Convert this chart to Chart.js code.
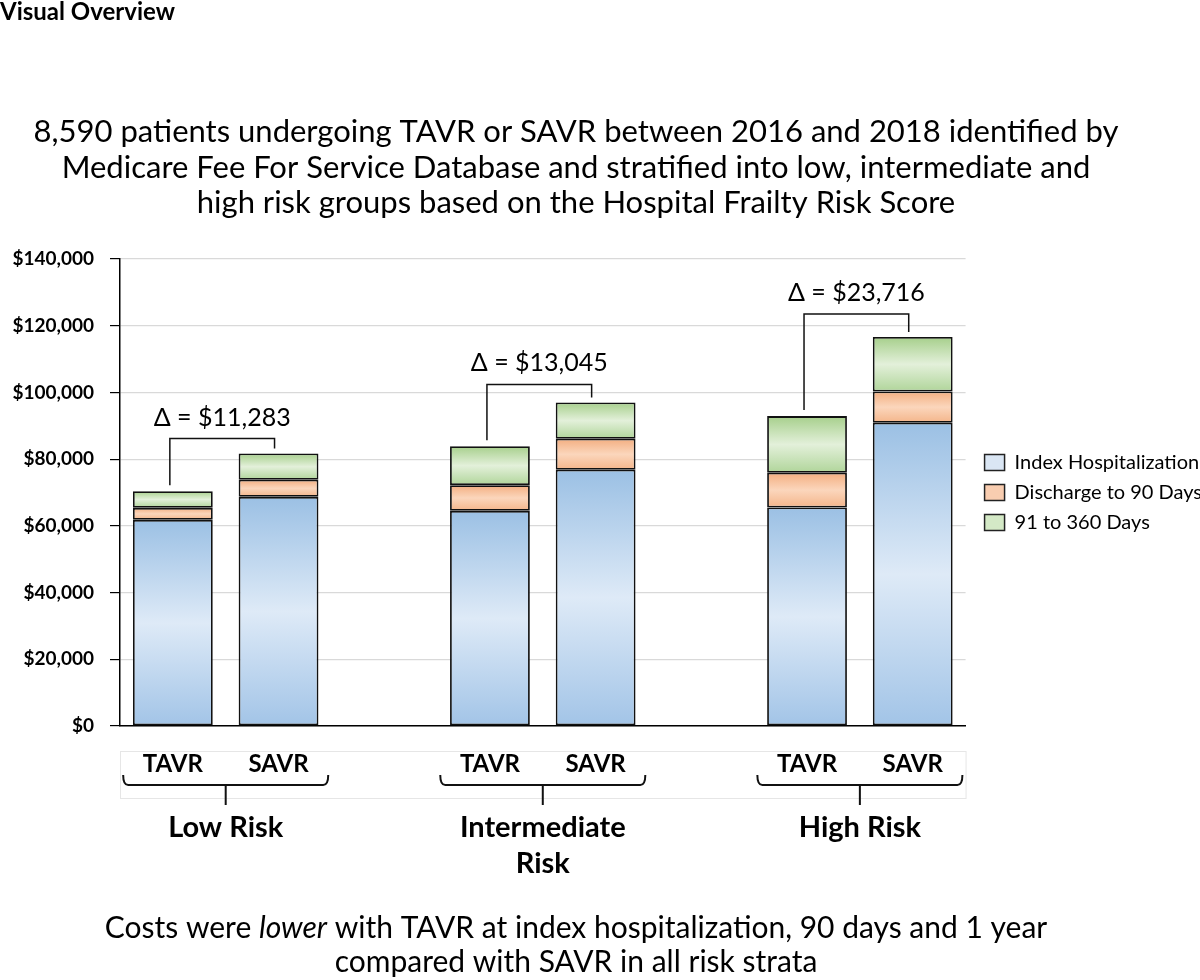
<!DOCTYPE html>
<html>
<head>
<meta charset="utf-8">
<title>TAVR vs SAVR costs by frailty risk</title>
<script src="https://cdn.jsdelivr.net/npm/chart.js@4.4.1/dist/chart.umd.min.js"></script>
<style>
  body { margin: 0; background: #fff; }
  #wrap { width: 1200px; height: 980px; }
</style>
</head>
<body>
<div id="wrap"><canvas id="costChart" width="1200" height="980"></canvas></div>
<script>
// bars: TAVR / SAVR per risk group, empty slots are the gaps between groups
const categories = ["TAVR", "SAVR", "", "TAVR", "SAVR", "", "TAVR", "SAVR"];
const indexHospitalization = [61800, 68700, null, 64500, 76800, null, 65500, 90900];
const dischargeTo90 = [3600, 5100, null, 7700, 9300, null, 10400, 9400];
const days91to360 = [5000, 7900, null, 11700, 10900, null, 17000, 16300];
const seriesNames = ["Index Hospitalization", "Discharge to 90 Days", "91 to 360 Days"];
const yTicks = [0, 20000, 40000, 60000, 80000, 100000, 120000, 140000];

const riskGroups = [["Low Risk"], ["Intermediate", "Risk"], ["High Risk"]];
const groupBars = [[0, 1], [3, 4], [6, 7]];
const deltaLabels = ["\u0394 = $11,283", "\u0394 = $13,045", "\u0394 = $23,716"];

const titleLines = [
  "8,590 patients undergoing TAVR or SAVR between 2016 and 2018 identified by",
  "Medicare Fee For Service Database and stratified into low, intermediate and",
  "high risk groups based on the Hospital Frailty Risk Score"
];

const FONT = "Lato, 'Open Sans', sans-serif";

// top / middle / bottom colours of each segment
const blueStops = ["#9bc0e4", "#deeaf7", "#a2c4e7"];
const orangeStops = ["#f3ae80", "#fbd6bc", "#f4b58a"];
const greenStops = ["#a6cf8b", "#e3f0da", "#b0d59a"];

function stackGradient(datasetIndex, stops) {
  return function (context) {
    const chart = context.chart;
    const y = chart.scales.y;
    const raw = context.raw;
    if (context.type !== "data" || !y || raw == null || !chart.chartArea) return stops[1];
    let start = 0;
    for (let d = 0; d < datasetIndex; d++) {
      start += chart.data.datasets[d].data[context.dataIndex] || 0;
    }
    const top = y.getPixelForValue(start + raw);
    const bottom = y.getPixelForValue(start);
    if (!isFinite(top) || !isFinite(bottom) || top === bottom) return stops[1];
    const g = chart.ctx.createLinearGradient(0, top, 0, bottom);
    g.addColorStop(0, stops[0]);
    g.addColorStop(0.5, stops[1]);
    g.addColorStop(1, stops[2]);
    return g;
  };
}

function totalAt(i) {
  return (indexHospitalization[i] || 0) + (dischargeTo90[i] || 0) + (days91to360[i] || 0);
}

// brackets, braces and all the free text
const annotations = {
  id: "annotations",
  afterLayout(chart) {
    // leave a small gap between plot and legend
    chart.legend.left += 9;
    chart.legend.right += 9;
  },
  afterDatasetsDraw(chart) {
    const ctx = chart.ctx;
    const x = chart.scales.x;
    const y = chart.scales.y;
    const rise = [10, 13, 18];

    ctx.save();
    ctx.strokeStyle = "#111";
    ctx.lineWidth = 1.5;
    ctx.fillStyle = "#000";
    ctx.font = "25px " + FONT;
    ctx.textAlign = "center";
    ctx.textBaseline = "middle";
    groupBars.forEach((pair, g) => {
      const xl = x.getPixelForValue(pair[0]) - 3;
      const xr = x.getPixelForValue(pair[1]) - 4;
      const yl = y.getPixelForValue(totalAt(pair[0])) - 6;
      const yr = y.getPixelForValue(totalAt(pair[1])) - 5;
      const yh = yr - rise[g];
      ctx.beginPath();
      ctx.moveTo(xl, yl);
      ctx.lineTo(xl, yh);
      ctx.lineTo(xr, yh);
      ctx.lineTo(xr, yr);
      ctx.stroke();
      ctx.fillText(deltaLabels[g], (xl + xr) / 2, yh - 21);
    });
    ctx.restore();
  },
  afterDraw(chart) {
    const ctx = chart.ctx;
    const x = chart.scales.x;
    const area = chart.chartArea;
    const cx = 576;

    ctx.save();
    ctx.fillStyle = "#000";

    ctx.font = "bold 24px " + FONT;
    ctx.textAlign = "left";
    ctx.textBaseline = "middle";
    ctx.fillText("Visual Overview", 0, 12);

    ctx.font = "31px " + FONT;
    ctx.textAlign = "center";
    titleLines.forEach((t, i) => ctx.fillText(t, cx, 132 + i * 35.5));

    // footer, first line has an italic word
    const pieces = [
      ["Costs were ", "30px " + FONT],
      ["lower", "italic 30px " + FONT],
      [" with TAVR at index hospitalization, 90 days and 1 year", "30px " + FONT]
    ];
    let w = 0;
    pieces.forEach(p => { ctx.font = p[1]; w += ctx.measureText(p[0]).width; });
    let px = cx - w / 2;
    ctx.textAlign = "left";
    pieces.forEach(p => {
      ctx.font = p[1];
      ctx.fillText(p[0], px, 928);
      px += ctx.measureText(p[0]).width;
    });
    ctx.font = "30px " + FONT;
    ctx.textAlign = "center";
    ctx.fillText("compared with SAVR in all risk strata", cx, 962);

    // faint box behind the TAVR / SAVR labels
    ctx.strokeStyle = "#e6e6e6";
    ctx.lineWidth = 1;
    ctx.strokeRect(area.left + 0.5, area.bottom + 25.5, area.right - area.left, 47);

    // braces under each group
    const catW = x.getPixelForValue(1) - x.getPixelForValue(0);
    ctx.strokeStyle = "#111";
    ctx.lineWidth = 2;
    const by = area.bottom + 59;
    groupBars.forEach((pair, g) => {
      const mid = (x.getPixelForValue(pair[0]) + x.getPixelForValue(pair[1])) / 2;
      const left = mid - catW * 0.97;
      const right = mid + catW * 0.97;
      ctx.beginPath();
      ctx.moveTo(left, by - 10);
      ctx.quadraticCurveTo(left, by, left + 5, by);
      ctx.lineTo(right - 5, by);
      ctx.quadraticCurveTo(right, by, right, by - 10);
      ctx.moveTo(mid, by);
      ctx.lineTo(mid, by + 20);
      ctx.stroke();

      ctx.font = "bold 29px " + FONT;
      ctx.textAlign = "center";
      ctx.textBaseline = "middle";
      riskGroups[g].forEach((line, k) => ctx.fillText(line, mid, area.bottom + 102 + k * 36));
    });
    ctx.restore();
  }
};

new Chart(document.getElementById("costChart"), {
  type: "bar",
  data: {
    labels: categories,
    datasets: [
      { label: seriesNames[0], data: indexHospitalization, backgroundColor: stackGradient(0, blueStops) },
      { label: seriesNames[1], data: dischargeTo90, backgroundColor: stackGradient(1, orangeStops) },
      { label: seriesNames[2], data: days91to360, backgroundColor: stackGradient(2, greenStops) }
    ].map(ds => Object.assign(ds, {
      borderColor: "#111",
      borderWidth: 1.8,
      borderSkipped: false,
      categoryPercentage: 1,
      barPercentage: 0.755
    }))
  },
  options: {
    responsive: false,
    animation: false,
    layout: { padding: { top: 259, right: -3, bottom: 0, left: 0 } },
    plugins: {
      title: { display: false },
      tooltip: { enabled: false },
      legend: {
        position: "right",
        align: "center",
        fullSize: false,
        labels: {
          color: "#000",
          font: { family: FONT, size: 20 },
          boxWidth: 20,
          boxHeight: 16,
          padding: 10,
          generateLabels() {
            const fills = ["#dae6f4", "#f9cdb0", "#d4e9c6"];
            return seriesNames.map((name, i) => ({
              text: name,
              fillStyle: fills[i],
              strokeStyle: "#222",
              lineWidth: 1.5,
              fontColor: "#000",
              datasetIndex: i
            }));
          }
        }
      }
    },
    scales: {
      x: {
        stacked: true,
        grid: { display: false, drawTicks: false },
        border: { display: true, color: "#000", width: 1.5 },
        ticks: {
          color: "#000",
          autoSkip: false,
          maxRotation: 0,
          padding: 24,
          font: { family: FONT, size: 24, weight: "bold" }
        },
        afterFit(scale) { scale.height = 254; }
      },
      y: {
        stacked: true,
        min: 0,
        max: 140000,
        grid: { color: "#d9d9d9", lineWidth: 1.2, tickColor: "#000", tickLength: 10 },
        border: { display: true, color: "#000", width: 1.5 },
        ticks: {
          color: "#000",
          padding: 16,
          font: { family: FONT, size: 19, weight: "bold" },
          callback: v => "$" + Number(v).toLocaleString("en-US")
        },
        afterBuildTicks(scale) { scale.ticks = yTicks.map(v => ({ value: v })); },
        afterFit(scale) { scale.width = 120; }
      }
    }
  },
  plugins: [annotations]
});
</script>
</body>
</html>
